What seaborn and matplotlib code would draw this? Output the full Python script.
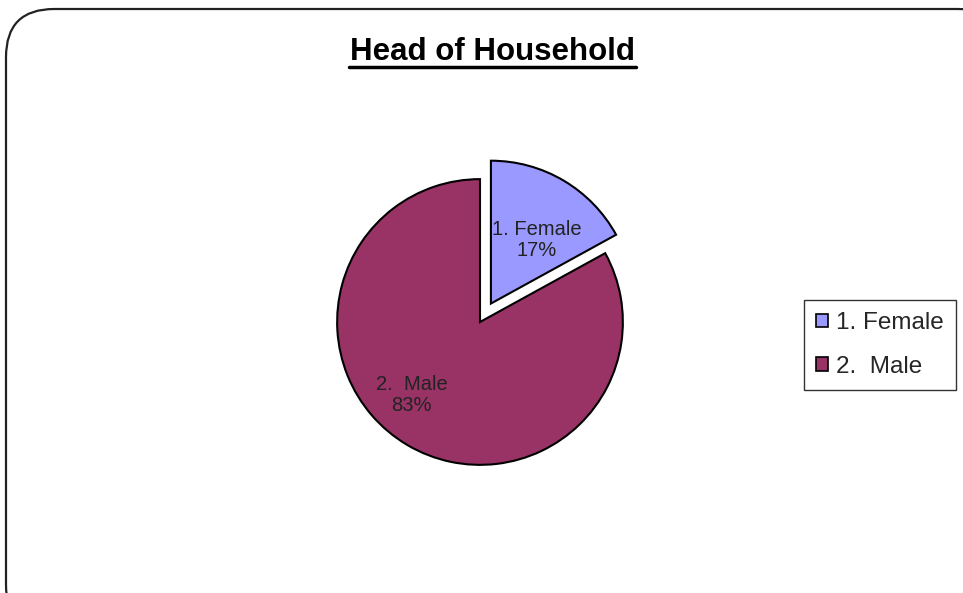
import matplotlib
import numpy as np
import matplotlib.pyplot as plt
plt.switch_backend('agg')
import pandas as pd
import seaborn as sns
from matplotlib.patches import FancyBboxPatch, Patch

import warnings
warnings.filterwarnings('ignore')

# data
categories = ["1. Female", "2.  Male"]
shares = [17, 83]
slice_colors = ["#9999FF", "#993366"]

sns.set_theme(style="white")
plt.rcParams['font.family'] = ['Liberation Sans', 'DejaVu Sans']

fig = plt.figure(figsize=(9.63, 5.93), dpi=100)
W, H = 963, 593

# rounded outer frame (runs off right and bottom edges)
frame = FancyBboxPatch((6 / W, -40 / H), 1000 / W, (593 - 9 + 40) / H,
                       boxstyle="round,pad=0,rounding_size=0.05",
                       transform=fig.transFigure, facecolor="white",
                       edgecolor="#222222", linewidth=1.6, mutation_aspect=W / H,
                       zorder=-5)
fig.patches.append(frame)

# pie axes: 400x400 px centred at (480, 322) from top
cx, cy, size = 480, 322, 400
ax = fig.add_axes([(cx - size / 2) / W, (H - cy - size / 2) / H, size / W, size / H])
ax.set_zorder(2)
ax.patch.set_alpha(0)

df = pd.DataFrame({"category": categories, "share": shares})


def fmt(pct, labels=iter(df["category"])):
    return f"{next(labels)}\n{pct:.0f}%"


explode = [0.15, 0]
wedges, texts, autotexts = ax.pie(
    df["share"], colors=slice_colors, explode=explode, startangle=90,
    counterclock=False, autopct=fmt, pctdistance=0.62, radius=1.0,
    wedgeprops=dict(edgecolor="black", linewidth=1.5),
    textprops=dict(fontsize=14.5, color="#222222", linespacing=1.1))
ax.set_xlim(-1.4, 1.4)
ax.set_ylim(-1.4, 1.4)
ax.axis('off')

# Excel-style label placement: shift toward the angle where Excel put them
label_polar = [(0.55, 54), (0.70, 227)]
for w, t, ex, (r, ang) in zip(wedges, autotexts, explode, label_polar):
    mid = np.deg2rad((w.theta1 + w.theta2) / 2)
    ox, oy = ex * np.cos(mid), ex * np.sin(mid)
    a = np.deg2rad(ang)
    t.set_position((ox + r * np.cos(a), oy + r * np.sin(a)))

fig.text(492 / W, 1 - 52 / H, "Head of Household", ha="center", va="center",
         fontsize=22.5, fontweight="bold", color="black")
fig.add_artist(plt.Line2D([349 / W, 636 / W], [1 - 67 / H, 1 - 67 / H],
                          color="black", linewidth=2.5))

handles = [Patch(facecolor=c, edgecolor="black", linewidth=1.2) for c in slice_colors]
leg = fig.legend(handles, categories, loc="center left",
                 bbox_to_anchor=(804 / W, 1 - 345 / H), fontsize=17.5,
                 frameon=True, fancybox=False, handlelength=0.5, handleheight=0.5,
                 handletextpad=0.3, borderpad=0.5, labelspacing=0.9,
                 borderaxespad=0)
leg.get_frame().set_edgecolor("black")
leg.get_frame().set_linewidth(1.0)

fig.savefig("out.png", dpi=100)
